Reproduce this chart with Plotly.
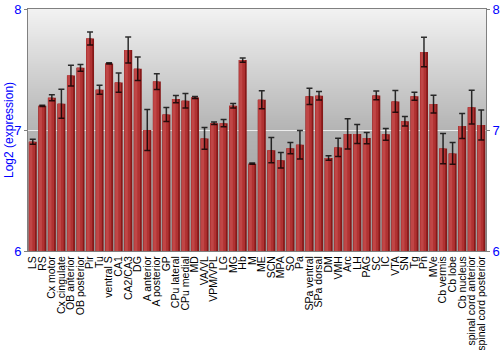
import base64, struct, zlib
import plotly.graph_objects as go

regions = ["LS", "RS", "Cx motor", "Cx cingulate", "OB anterior", "OB posterior", "Pir", "Tu",
           "ventral S", "CA1", "CA2/CA3", "DG", "A anterior", "A posterior", "GP", "CPu lateral",
           "CPu medial", "MD", "VA/VL", "VPM/VPL", "LG", "MG", "Hb", "M", "ME", "SCN", "MPA",
           "SO", "Pa", "SPa ventral", "SPa dorsal", "DM", "VMH", "Arc", "LH", "PAG", "SC", "IC",
           "VTA", "SN", "Tg", "Pn", "MVe", "Cb vermis", "Cb lobe", "Cb nucleus",
           "spinal cord anterior", "spinal cord posterior"]
expression = [6.903, 7.200, 7.267, 7.217, 7.450, 7.514, 7.756, 7.333,
              7.550, 7.392, 7.661, 7.506, 7.000, 7.400, 7.128, 7.256,
              7.242, 7.269, 6.930, 7.056, 7.056, 7.200, 7.578, 6.722,
              7.250, 6.833, 6.750, 6.850, 6.878, 7.278, 7.283, 6.769,
              6.856, 6.967, 6.967, 6.933, 7.286, 6.964, 7.236, 7.072,
              7.278, 7.644, 7.214, 6.847, 6.806, 7.033, 7.189, 7.042]
error = [0.020, 0.005, 0.025, 0.120, 0.086, 0.028, 0.053, 0.037,
         0.005, 0.080, 0.107, 0.097, 0.170, 0.065, 0.058, 0.030,
         0.060, 0.008, 0.090, 0.010, 0.030, 0.018, 0.018, 0.005,
         0.075, 0.104, 0.064, 0.046, 0.118, 0.067, 0.035, 0.018,
         0.076, 0.125, 0.078, 0.046, 0.036, 0.049, 0.090, 0.039,
         0.033, 0.122, 0.074, 0.125, 0.090, 0.103, 0.140, 0.124]
y_ticks = [6, 7, 8]


def gradient_png(levels):
    raw = b"".join(b"\x00" + bytes([v]) for v in levels)
    def chunk(tag, data):
        c = struct.pack(">I", len(data)) + tag + data
        return c + struct.pack(">I", zlib.crc32(tag + data) & 0xffffffff)
    png = b"\x89PNG\r\n\x1a\n"
    png += chunk(b"IHDR", struct.pack(">IIBBBBB", 1, len(levels), 8, 0, 0, 0, 0))
    png += chunk(b"IDAT", zlib.compress(raw))
    png += chunk(b"IEND", b"")
    return "data:image/png;base64," + base64.b64encode(png).decode()


n = 240
levels = []
for i in range(n):
    t = i / (n - 1)
    if t < 0.5:
        v = 242 - (242 - 180) * (t / 0.5)
    else:
        v = 180 - (180 - 152) * ((t - 0.5) / 0.5)
    levels.append(int(round(v)))
bg_src = gradient_png(levels)

fig = go.Figure()
fig.add_trace(go.Bar(x=regions, y=expression, width=0.84, offset=-0.42,
                     marker=dict(color="#861818", line=dict(width=0)), hoverinfo="skip"))
fig.add_trace(go.Bar(x=regions, y=expression, width=0.64, offset=-0.40,
                     marker=dict(color="#b03232", line=dict(width=0)), hoverinfo="skip"))
fig.add_trace(go.Bar(x=regions, y=expression, width=0.32, offset=-0.36,
                     marker=dict(color="#c04646", line=dict(width=0)), hoverinfo="skip"))
fig.add_trace(go.Scatter(x=regions, y=expression, mode="markers",
                         marker=dict(size=1, opacity=0),
                         error_y=dict(type="data", array=error, visible=True,
                                      color="rgba(0,0,0,0.8)", thickness=1.5, width=3)))
fig.add_trace(go.Scatter(x=[regions[0]], y=[6], yaxis="y2", mode="markers",
                         marker=dict(opacity=0), hoverinfo="skip"))

fig.update_layout(
    width=500, height=350,
    margin=dict(l=28, r=14, t=9, b=99),
    barmode="overlay",
    showlegend=False,
    paper_bgcolor="white",
    plot_bgcolor="rgba(0,0,0,0)",
    font=dict(family="Liberation Sans, Arial, sans-serif", color="black"),
    images=[dict(source=bg_src, xref="paper", yref="paper", x=0, y=1, sizex=1, sizey=1,
                 sizing="stretch", layer="below", xanchor="left", yanchor="top")],
    xaxis=dict(tickangle=-90, tickfont=dict(size=10.5, color="black"), showgrid=False,
               tickmode="array", tickvals=regions, ticktext=regions, automargin=False,
               showline=True, linecolor="#808080", linewidth=1, mirror=True,
               ticks="", range=[-0.5, len(regions) - 0.5]),
    yaxis=dict(range=[6, 8], tickvals=y_ticks, tickfont=dict(size=13, color="#0000ff"),
               automargin=False,
               showgrid=True, gridcolor="rgba(255,255,255,0.75)", gridwidth=1,
               showline=True, linecolor="#808080", linewidth=1, mirror=True,
               ticks="outside", ticklen=3, tickcolor="#808080", layer="above traces",
               zeroline=False),
    yaxis2=dict(range=[6, 8], tickvals=y_ticks, tickfont=dict(size=13, color="#0000ff"),
                automargin=False,
                overlaying="y", side="right", showgrid=False, ticks="outside", ticklen=3,
                tickcolor="#808080", zeroline=False),
    annotations=[dict(text="Log2 (expression)", xref="paper", yref="paper",
                      x=-0.0415, y=0.5, textangle=-90, showarrow=False,
                      font=dict(size=12, color="#0000ff"), xanchor="center", yanchor="middle")],
)

fig.write_html("out.html")
